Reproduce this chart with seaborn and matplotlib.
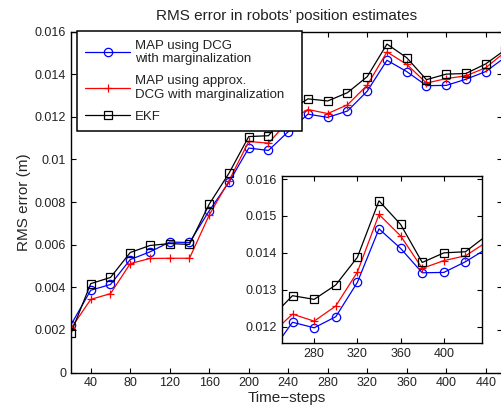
import numpy as np
import pandas as pd
import matplotlib
matplotlib.use("Agg")
import matplotlib.pyplot as plt
import seaborn as sns
from matplotlib.ticker import FuncFormatter

# ==============================
# data
# ==============================
time_steps = [20, 40, 60, 80, 100, 120, 140, 160, 180, 200, 220, 240,
              260, 280, 300, 320, 340, 360, 380, 400, 420, 440, 460]

rms_dcg = [0.00224, 0.00386, 0.00413, 0.00530, 0.00566, 0.00612, 0.00610,
           0.00759, 0.00893, 0.01053, 0.01042, 0.01130, 0.01212, 0.01197,
           0.01227, 0.01320, 0.01465, 0.01412, 0.01346, 0.01347, 0.01376,
           0.01412, 0.01480]

rms_approx = [0.00207, 0.00343, 0.00370, 0.00511, 0.00535, 0.00536, 0.00536,
              0.00739, 0.00900, 0.01084, 0.01076, 0.01180, 0.01234, 0.01215,
              0.01256, 0.01348, 0.01504, 0.01446, 0.01358, 0.01379, 0.01392,
              0.01430, 0.01505]

rms_ekf = [0.00185, 0.00417, 0.00446, 0.00563, 0.00596, 0.00605, 0.00601,
           0.00790, 0.00935, 0.01107, 0.01111, 0.01224, 0.01284, 0.01274,
           0.01313, 0.01388, 0.01541, 0.01477, 0.01374, 0.01400, 0.01403,
           0.01448, 0.01515]

labels = ["MAP using DCG\nwith marginalization",
          "MAP using approx.\nDCG with marginalization",
          "EKF"]

series = [
    (rms_dcg, "#0000ff", "o"),
    (rms_approx, "#ff0000", "+"),
    (rms_ekf, "#000000", "s"),
]

# ==============================
# style
# ==============================
sns.set_style("ticks")
plt.rcParams["font.family"] = ["Liberation Sans", "DejaVu Sans"]
plt.rcParams["xtick.direction"] = "in"
plt.rcParams["ytick.direction"] = "in"
plt.rcParams["xtick.top"] = True
plt.rcParams["ytick.right"] = True
plt.rcParams["axes.linewidth"] = 1.0
plt.rcParams["axes.edgecolor"] = "black"
plt.rcParams["xtick.color"] = "black"
plt.rcParams["ytick.color"] = "black"
plt.rcParams["text.color"] = "#222222"


def draw(ax, with_labels):
    for (vals, col, mk), lab in zip(series, labels):
        kw = dict(mfc="none", mec=col, mew=0.9)
        ms = 6 if mk != "s" else 5.5
        sns.lineplot(x=time_steps, y=vals, ax=ax, color=col, marker=mk,
                     markersize=ms, linewidth=0.9,
                     label=lab if with_labels else None, **kw)
    ax.tick_params(axis="both", length=3.5, width=0.8, labelsize=9,
                   colors="black", labelcolor="#222222")


fmt = FuncFormatter(lambda v, p: "%g" % round(v, 6))

fig = plt.figure(figsize=(5.01, 4.11), dpi=100)

# --- main axes ---
ax = fig.add_axes([71 / 501, (411 - 372.5) / 411, 431 / 501, 341 / 411])
draw(ax, True)
ax.set_xlim(20, 456.5)
ax.set_ylim(0, 0.016)
ax.set_xticks(np.arange(40, 441, 40))
ax.set_yticks(np.arange(0, 0.0161, 0.002))
ax.yaxis.set_major_formatter(fmt)
ax.set_xlabel("Time\u2212steps", fontsize=11, labelpad=1)
ax.set_ylabel("RMS error (m)", fontsize=11, labelpad=3)
ax.set_title("RMS error in robots\u2019 position estimates", fontsize=11, pad=8)

leg = ax.legend(loc="upper left", bbox_to_anchor=(0.0146, 0.0, 0.5207, 1.0),
                mode="expand", borderaxespad=0, fancybox=False, framealpha=1,
                edgecolor="black", fontsize=9.5, handlelength=3.36,
                handletextpad=0.36, labelspacing=0.72, borderpad=0.62)
leg.get_frame().set_linewidth(1.1)

# --- inset ---
axin = fig.add_axes([281.7 / 501, (411 - 343.3) / 411, 200 / 501, 167.6 / 411])
draw(axin, False)
axin.set_xlim(250, 435)
axin.set_ylim(0.01155, 0.01609)
axin.set_xticks([280, 320, 360, 400])
axin.set_yticks([0.012, 0.013, 0.014, 0.015, 0.016])
axin.yaxis.set_major_formatter(fmt)
axin.set_facecolor("white")

fig.savefig("out.png", dpi=100)
